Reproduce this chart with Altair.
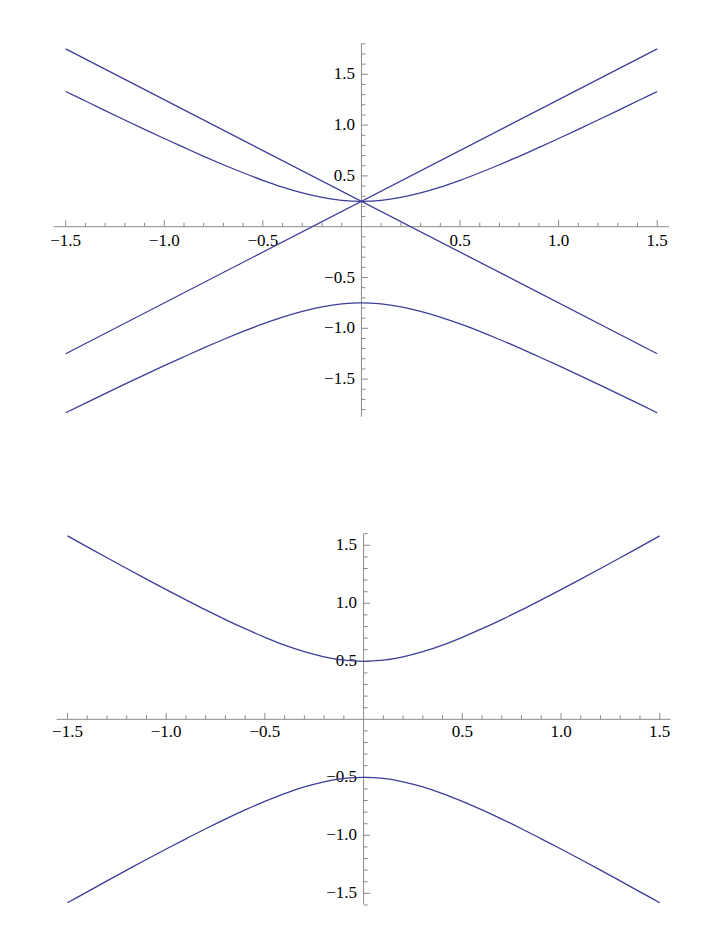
import altair as alt
import pandas as pd

# ---------------- data ----------------
xs = [-1.5, -1.4, -1.3, -1.2, -1.1, -1.0, -0.9, -0.8, -0.7, -0.6, -0.5, -0.4, -0.3, -0.2, -0.1, 0.0,
      0.1, 0.2, 0.3, 0.4, 0.5, 0.6, 0.7, 0.8, 0.9, 1.0, 1.1, 1.2, 1.3, 1.4, 1.5]

top_upper = [1.331, 1.237, 1.143, 1.050, 0.958, 0.868, 0.780, 0.693, 0.610, 0.531, 0.457, 0.390, 0.333, 0.289, 0.260, 0.250,
             0.260, 0.289, 0.333, 0.390, 0.457, 0.531, 0.610, 0.693, 0.780, 0.868, 0.958, 1.050, 1.143, 1.237, 1.331]
top_lower = [-1.831, -1.737, -1.643, -1.550, -1.458, -1.368, -1.280, -1.193, -1.110, -1.031, -0.957, -0.890, -0.833, -0.789, -0.760, -0.750,
             -0.760, -0.789, -0.833, -0.890, -0.957, -1.031, -1.110, -1.193, -1.280, -1.368, -1.458, -1.550, -1.643, -1.737, -1.831]
line_x = [-1.5, 1.5]
line_rise_y = [-1.25, 1.75]
line_fall_y = [1.75, -1.25]

bot_upper = [1.581, 1.487, 1.393, 1.300, 1.208, 1.118, 1.030, 0.943, 0.860, 0.781, 0.707, 0.640, 0.583, 0.539, 0.510, 0.500,
             0.510, 0.539, 0.583, 0.640, 0.707, 0.781, 0.860, 0.943, 1.030, 1.118, 1.208, 1.300, 1.393, 1.487, 1.581]
bot_lower = [-1.581, -1.487, -1.393, -1.300, -1.208, -1.118, -1.030, -0.943, -0.860, -0.781, -0.707, -0.640, -0.583, -0.539, -0.510, -0.500,
             -0.510, -0.539, -0.583, -0.640, -0.707, -0.781, -0.860, -0.943, -1.030, -1.118, -1.208, -1.300, -1.393, -1.487, -1.581]

# ticks and labels
major_ticks = [-1.5, -1.0, -0.5, 0.5, 1.0, 1.5]
major_labels = ["\u22121.5", "\u22121.0", "\u22120.5", "0.5", "1.0", "1.5"]
x_minor = [-1.4, -1.3, -1.2, -1.1, -0.9, -0.8, -0.7, -0.6, -0.4, -0.3, -0.2, -0.1,
           0.1, 0.2, 0.3, 0.4, 0.6, 0.7, 0.8, 0.9, 1.1, 1.2, 1.3, 1.4]
top_y_minor = [-1.8, -1.7, -1.6, -1.4, -1.3, -1.2, -1.1, -0.9, -0.8, -0.7, -0.6, -0.4, -0.3, -0.2, -0.1,
               0.1, 0.2, 0.3, 0.4, 0.6, 0.7, 0.8, 0.9, 1.1, 1.2, 1.3, 1.4, 1.6, 1.7, 1.8]
bot_y_minor = [-1.6, -1.4, -1.3, -1.2, -1.1, -0.9, -0.8, -0.7, -0.6, -0.4, -0.3, -0.2, -0.1,
               0.1, 0.2, 0.3, 0.4, 0.6, 0.7, 0.8, 0.9, 1.1, 1.2, 1.3, 1.4, 1.6]

# axis extents
top_x_extent = [-1.56, 1.56]
top_y_extent = [-1.87, 1.805]
bot_x_extent = [-1.555, 1.555]
bot_y_extent = [-1.59, 1.60]

CURVE = "#3d3d99"
AXIS = "#8a8a8a"
FONT = "Liberation Serif"
FS = 17


def panel(curves, x_ext, y_ext, y_minor, xdom, ydom, w, h, xlab_dy):
    sx = alt.Scale(domain=xdom, nice=False, zero=False)
    sy = alt.Scale(domain=ydom, nice=False, zero=False)
    X = lambda f: alt.X(f, type="quantitative", scale=sx, axis=None)
    Y = lambda f: alt.Y(f, type="quantitative", scale=sy, axis=None)

    rows = []
    for name, cx, cy in curves:
        for a, b in zip(cx, cy):
            rows.append({"series": name, "x": a, "y": b})
    cdf = pd.DataFrame(rows)

    xaxis_df = pd.DataFrame({"x": [x_ext[0]], "x2": [x_ext[1]], "y": [0.0]})
    yaxis_df = pd.DataFrame({"y": [y_ext[0]], "y2": [y_ext[1]], "x": [0.0]})
    xmaj_df = pd.DataFrame({"x": major_ticks, "y": [0.0] * len(major_ticks), "label": major_labels})
    xmin_df = pd.DataFrame({"x": x_minor, "y": [0.0] * len(x_minor)})
    ymaj_df = pd.DataFrame({"y": major_ticks, "x": [0.0] * len(major_ticks), "label": major_labels})
    ymin_df = pd.DataFrame({"y": y_minor, "x": [0.0] * len(y_minor)})

    lines = alt.Chart(cdf).mark_line(color=CURVE, strokeWidth=1.3, interpolate="monotone").encode(
        x=X("x"), y=Y("y"), detail="series:N")

    xaxis = alt.Chart(xaxis_df).mark_rule(color=AXIS, strokeWidth=1).encode(x=X("x"), x2="x2", y=Y("y"))
    yaxis = alt.Chart(yaxis_df).mark_rule(color=AXIS, strokeWidth=1).encode(y=Y("y"), y2="y2", x=X("x"))

    xmaj = alt.Chart(xmaj_df).mark_rule(color=AXIS, strokeWidth=1, y2Offset=-6.5).encode(
        x=X("x"), y=Y("y"), y2="y")
    xmin = alt.Chart(xmin_df).mark_rule(color=AXIS, strokeWidth=1, y2Offset=-4).encode(
        x=X("x"), y=Y("y"), y2="y")
    ymaj = alt.Chart(ymaj_df).mark_rule(color=AXIS, strokeWidth=1, x2Offset=6.5).encode(
        y=Y("y"), x=X("x"), x2="x")
    ymin = alt.Chart(ymin_df).mark_rule(color=AXIS, strokeWidth=1, x2Offset=4).encode(
        y=Y("y"), x=X("x"), x2="x")

    xlab = alt.Chart(xmaj_df).mark_text(font=FONT, fontSize=FS, color="black", align="center",
                                        baseline="middle", dy=xlab_dy).encode(
        x=X("x"), y=Y("y"), text="label:N")
    ylab = alt.Chart(ymaj_df).mark_text(font=FONT, fontSize=FS, color="black", align="right",
                                        baseline="middle", dx=-6.5).encode(
        x=X("x"), y=Y("y"), text="label:N")

    return alt.layer(xaxis, yaxis, xmaj, xmin, ymaj, ymin, xlab, ylab, lines).properties(width=w, height=h)


top = panel(
    [("upper", xs, top_upper), ("lower", xs, top_lower),
     ("rise", line_x, line_rise_y), ("fall", line_x, line_fall_y)],
    top_x_extent, top_y_extent, top_y_minor,
    [-1.7926, 1.7069], [-2.0797, 2.1526], 690, 430, 14)

bottom = panel(
    [("upper", xs, bot_upper), ("lower", xs, bot_lower)],
    bot_x_extent, bot_y_extent, bot_y_minor,
    [-1.8014, 1.6940], [-1.842, 2.425], 690, 495, 12.8)

chart = alt.vconcat(top, bottom, spacing=0).properties(padding=0, background="white").configure_view(stroke=None)

chart.save("out.html", embed_options={"renderer": "svg", "actions": False})
